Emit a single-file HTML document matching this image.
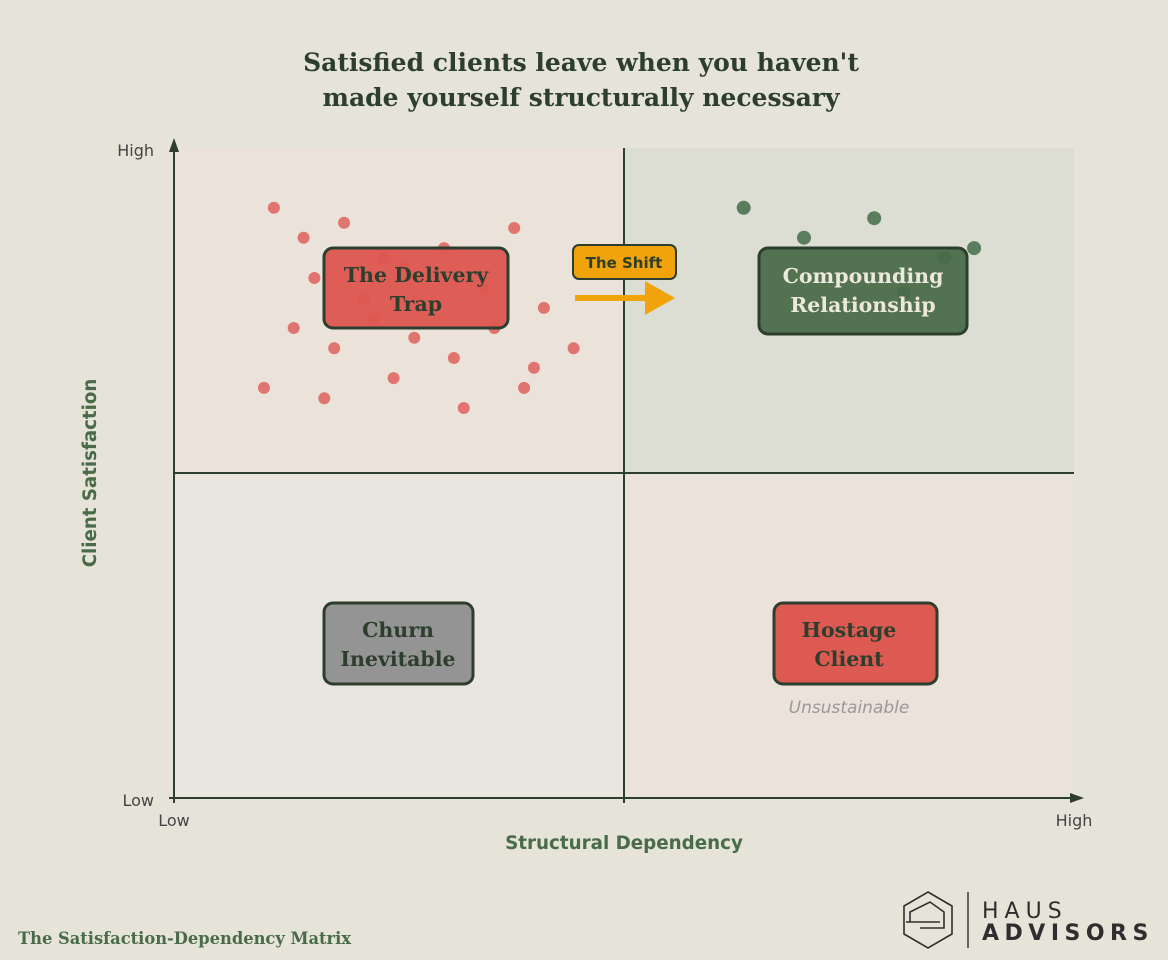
<!DOCTYPE html>
<html><head><meta charset="utf-8"><style>
html,body{margin:0;padding:0;background:#e6e4d9;}
svg{display:block;}
.serif{font-family:"DejaVu Serif","Liberation Serif",serif;font-weight:bold;}
.sans{font-family:"DejaVu Sans","Liberation Sans",sans-serif;}
</style></head><body>
<svg id="chart" width="1168" height="960" viewBox="0 0 1168 960" xmlns="http://www.w3.org/2000/svg">
<rect width="1168" height="960" fill="#e6e4d9"/>
<g>
<text x="581" y="71" text-anchor="middle" class="serif" font-size="25" fill="#2d3e2d">Satisfied clients leave when you haven't</text>
<text x="581" y="106" text-anchor="middle" class="serif" font-size="25" fill="#2d3e2d">made yourself structurally necessary</text>
</g>
<rect x="174" y="148" width="450" height="325" fill="#ebe2da"/>
<rect x="624" y="148" width="450" height="325" fill="#dcded4"/>
<rect x="174" y="473" width="450" height="325" fill="#e9e6df"/>
<rect x="624" y="473" width="450" height="325" fill="#ebe2da"/>
<g id="dots"></g>
<line x1="624" y1="148" x2="624" y2="803" stroke="#2d3e2d" stroke-width="2"/>
<line x1="174" y1="473" x2="1074" y2="473" stroke="#2d3e2d" stroke-width="2"/>
<line x1="174" y1="803" x2="174" y2="145" stroke="#2d3e2d" stroke-width="2"/>
<polygon points="174,138 169,152 179,152" fill="#2d3e2d"/>
<line x1="169" y1="798" x2="1074" y2="798" stroke="#2d3e2d" stroke-width="2"/>
<polygon points="1084,798 1070,793 1070,803" fill="#2d3e2d"/>
<text x="154" y="156" text-anchor="end" class="sans" font-size="16" fill="#444">High</text>
<text x="154" y="806" text-anchor="end" class="sans" font-size="16" fill="#444">Low</text>
<text x="174" y="826" text-anchor="middle" class="sans" font-size="16" fill="#444">Low</text>
<text x="1074" y="826" text-anchor="middle" class="sans" font-size="16" fill="#444">High</text>
<text x="624" y="849" text-anchor="middle" class="sans" font-size="18.3" font-weight="bold" fill="#4a6b4a">Structural Dependency</text>
<text transform="translate(96,473) rotate(-90)" text-anchor="middle" class="sans" font-size="18.2" font-weight="bold" fill="#4a6b4a">Client Satisfaction</text>
<g>
<rect x="324" y="248" width="184" height="80" rx="9" fill="#dd5650" fill-opacity="0.95" stroke="#2d3e2d" stroke-width="3"/>
<text x="416" y="282" text-anchor="middle" class="serif" font-size="20.5" fill="#2d3e2d">The Delivery</text>
<text x="416" y="311" text-anchor="middle" class="serif" font-size="20.5" fill="#2d3e2d">Trap</text>
</g>
<g>
<rect x="759" y="248" width="208" height="86" rx="9" fill="#4a6b4a" fill-opacity="0.95" stroke="#2d3e2d" stroke-width="3"/>
<text x="863" y="283" text-anchor="middle" class="serif" font-size="20.5" fill="#ece8dc">Compounding</text>
<text x="863" y="312" text-anchor="middle" class="serif" font-size="20.5" fill="#ece8dc">Relationship</text>
</g>
<g>
<rect x="324" y="603" width="149" height="81" rx="9" fill="#949494" stroke="#2d3e2d" stroke-width="3"/>
<text x="398" y="637" text-anchor="middle" class="serif" font-size="20.5" fill="#2d3e2d">Churn</text>
<text x="398" y="666" text-anchor="middle" class="serif" font-size="20.5" fill="#2d3e2d">Inevitable</text>
</g>
<g>
<rect x="774" y="603" width="163" height="81" rx="9" fill="#dd5a52" stroke="#2d3e2d" stroke-width="3"/>
<text x="849" y="637" text-anchor="middle" class="serif" font-size="20.5" fill="#2d3e2d">Hostage</text>
<text x="849" y="666" text-anchor="middle" class="serif" font-size="20.5" fill="#2d3e2d">Client</text>
</g>
<text x="849" y="713" text-anchor="middle" class="sans" font-size="17" font-style="italic" fill="#999">Unsustainable</text>
<g>
<rect x="573" y="245" width="103" height="34" rx="6" fill="#f0a30a" stroke="#2d3e2d" stroke-width="2"/>
<text x="624" y="268" text-anchor="middle" class="sans" font-size="15" font-weight="bold" fill="#2d3e2d">The Shift</text>
</g>
<g>
<line x1="575" y1="298" x2="648" y2="298" stroke="#f0a30a" stroke-width="6"/>
<polygon points="645,281 675,298 645,315" fill="#f0a30a"/>
</g>
<text x="18" y="944" class="serif" font-size="16.3" fill="#4a6b4a">The Satisfaction-Dependency Matrix</text>
<g>
<polygon points="928,892 952,906 952,934 928,948 904,934 904,906" fill="none" stroke="#2e2e2e" stroke-width="1.6"/>
<polyline points="910,922 910,912 930,902 944,912 944,928 920,928" fill="none" stroke="#2e2e2e" stroke-width="1.6"/>
<polyline points="906,922 940,922" fill="none" stroke="#2e2e2e" stroke-width="1.6"/>
<line x1="968" y1="892" x2="968" y2="948" stroke="#2e2e2e" stroke-width="1.4"/>
<text x="982" y="918" class="sans" font-size="22" fill="#2e2e2e" letter-spacing="6">HAUS</text>
<text x="982" y="940" class="sans" font-size="22" font-weight="bold" fill="#2e2e2e" letter-spacing="5.5">ADVISORS</text>
</g>
</svg>
<script>
const redX=[11.1,14.4,18.9,37.8,30,23.3,25.6,15.6,21.1,34.4,41.1,22.2,13.3,35.6,26.7,17.8,44.4,31.1,40,24.4,10,38.9,16.7,32.2];
const redY=[90.8,86.2,88.5,87.7,84.6,83.1,81.8,80,76.9,78.5,75.4,73.8,72.3,72.3,70.8,69.2,69.2,67.7,66.2,64.6,63.1,63.1,61.5,60];
const greenX=[63.3,70,77.8,85.6,88.9,81.1];
const greenY=[90.8,86.2,89.2,83.1,84.6,77.7];
function sx(v){return 174+v*9;}
function sy(v){return 798-v*6.5;}
const g=document.getElementById('dots');
const NS='http://www.w3.org/2000/svg';
redX.forEach((x,i)=>{
 const c=document.createElementNS(NS,'circle');
 c.setAttribute('cx',sx(x));c.setAttribute('cy',sy(redY[i]));c.setAttribute('r',6);
 c.setAttribute('fill','#e07570');
 
 
 g.appendChild(c);
});
greenX.forEach((x,i)=>{
 const c=document.createElementNS(NS,'circle');
 c.setAttribute('cx',sx(x));c.setAttribute('cy',sy(greenY[i]));c.setAttribute('r',7);
 c.setAttribute('fill','#5a7d5e');
 
 
 g.appendChild(c);
});
</script>
</body></html>
